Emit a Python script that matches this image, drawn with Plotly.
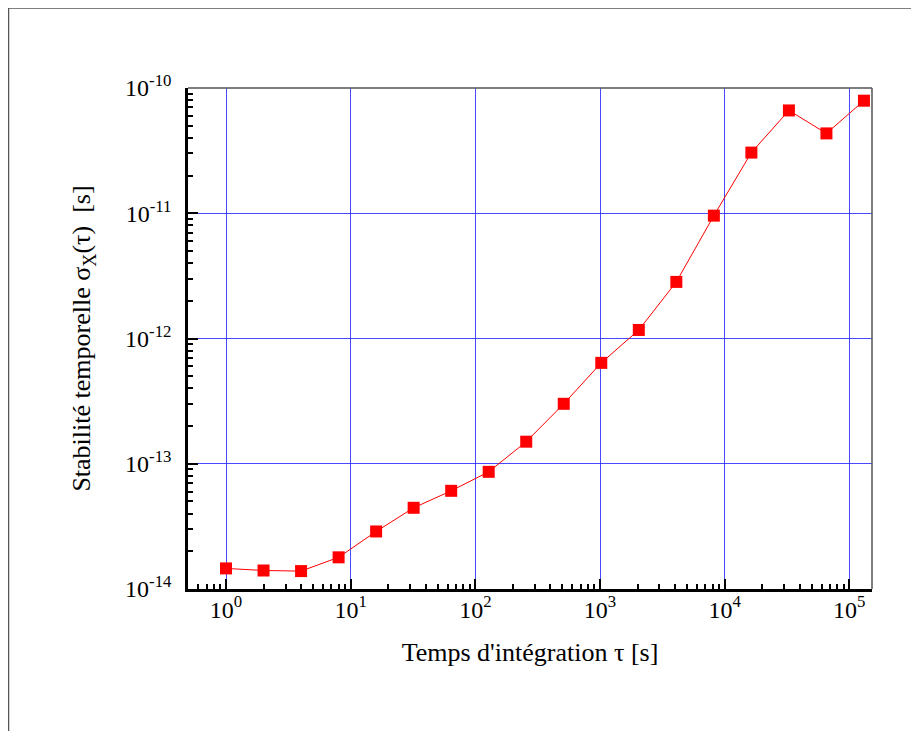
import plotly.graph_objects as go

# Data
tau = [1, 2, 4, 8, 16, 32, 64, 128, 256, 512, 1024, 2048, 4096, 8192,
       16384, 32768, 65536, 131072]
sigma_x = [1.46e-14, 1.405e-14, 1.39e-14, 1.79e-14, 2.88e-14, 4.45e-14,
           6.08e-14, 8.62e-14, 1.50e-13, 3.01e-13, 6.39e-13, 1.17e-12,
           2.83e-12, 9.57e-12, 3.05e-11, 6.62e-11, 4.34e-11, 7.92e-11]

x_tickvals = [1, 10, 100, 1000, 10000, 100000]
x_ticktext = ["10<sup>0</sup>", "10<sup>1</sup>", "10<sup>2</sup>",
              "10<sup>3</sup>", "10<sup>4</sup>", "10<sup>5</sup>"]
y_tickvals = [1e-14, 1e-13, 1e-12, 1e-11, 1e-10]
y_ticktext = ["10<sup>-14</sup>", "10<sup>-13</sup>", "10<sup>-12</sup>",
              "10<sup>-11</sup>", "10<sup>-10</sup>"]

x_minor = [k * 10.0 ** e for e in range(-1, 6) for k in range(2, 10)]
y_minor = [k * 10.0 ** e for e in range(-14, -10) for k in range(2, 10)]

# page offset of 8px (body margin) is accounted for
W, H = 911, 723
L, R, T, B = 180, 47, 80, 142
pw, ph = W - L - R, H - T - B

def px2paper_x(px):
    return (px - L) / pw

def px2paper_y(py):
    return 1 - (py - T) / ph

font_family = "Liberation Serif, Times New Roman, serif"

fig = go.Figure()
fig.add_trace(go.Scatter(
    x=tau, y=sigma_x, mode="lines+markers",
    line=dict(color="red", width=1),
    marker=dict(symbol="square", size=12, color="red", line=dict(width=0)),
    showlegend=False,
))

axis_common = dict(
    type="log",
    showline=True, linecolor="black", linewidth=2.5,
    ticks="inside", ticklen=10, tickwidth=2, tickcolor="black",
    showgrid=True, gridcolor="rgba(40,40,255,0.85)", gridwidth=1.2,
    zeroline=False,
    tickfont=dict(family=font_family, size=24, color="black"),
    tickmode="array",
)

fig.update_xaxes(
    **axis_common,
    range=[-0.305, 5.182],
    tickvals=x_tickvals, ticktext=x_ticktext,
    ticklabelstandoff=-3,
    minor=dict(tickmode="array", tickvals=x_minor, ticks="inside",
               ticklen=5, tickwidth=2, tickcolor="black", showgrid=False),
    title=dict(text="Temps d'intégration τ [s]",
               font=dict(family=font_family, size=26, color="black"),
               standoff=22),
)
fig.update_yaxes(
    **axis_common,
    range=[-14, -10],
    tickvals=y_tickvals, ticktext=y_ticktext,
    ticklabelstandoff=9,
    minor=dict(tickmode="array", tickvals=y_minor, ticks="inside",
               ticklen=5, tickwidth=2, tickcolor="black", showgrid=False),
    title=dict(text="Stabilité temporelle σ<sub>X</sub>(τ)  [s]",
               font=dict(family=font_family, size=26, color="black"),
               standoff=27),
)

shapes = [
    # top and right frame of plot area (gray)
    dict(type="line", xref="paper", yref="paper", x0=0, x1=1, y0=1, y1=1,
         line=dict(color="#555555", width=1.5)),
    dict(type="line", xref="paper", yref="paper", x0=1, x1=1, y0=0, y1=1,
         line=dict(color="#555555", width=1.5)),
    # outer page frame
    dict(type="line", xref="paper", yref="paper",
         x0=px2paper_x(0), x1=px2paper_x(W + 5),
         y0=px2paper_y(0), y1=px2paper_y(0),
         line=dict(color="#555555", width=1.5)),
    dict(type="line", xref="paper", yref="paper",
         x0=px2paper_x(0.5), x1=px2paper_x(0.5),
         y0=px2paper_y(0), y1=px2paper_y(H + 5),
         line=dict(color="#555555", width=1.5)),
]

fig.update_layout(
    width=W, height=H, autosize=False,
    margin=dict(l=L, r=R, t=T, b=B),
    paper_bgcolor="white", plot_bgcolor="white",
    shapes=shapes,
    font=dict(family=font_family, color="black"),
)

fig.write_html("out.html")
